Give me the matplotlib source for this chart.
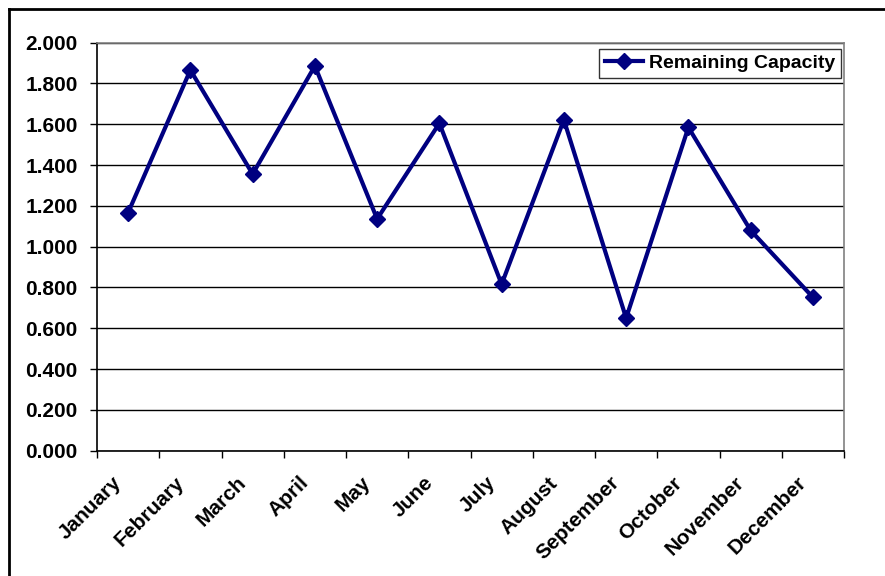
import matplotlib
matplotlib.use("Agg")
import matplotlib.pyplot as plt
from matplotlib.lines import Line2D
from matplotlib.transforms import ScaledTranslation

months = ["January", "February", "March", "April", "May", "June",
          "July", "August", "September", "October", "November", "December"]
remaining_capacity = [1.167, 1.866, 1.356, 1.886, 1.136, 1.605,
                      0.816, 1.622, 0.650, 1.585, 1.080, 0.752]
y_ticks = [0.0, 0.2, 0.4, 0.6, 0.8, 1.0, 1.2, 1.4, 1.6, 1.8, 2.0]
series_name = "Remaining Capacity"

plt.rcParams['font.family'] = ['Liberation Sans', 'DejaVu Sans']
plt.rcParams['font.weight'] = 'bold'

W, H = 885, 576
fig = plt.figure(figsize=(W / 100, H / 100), dpi=100)
fig.patch.set_facecolor('white')
ax = fig.add_axes([97 / W, 1 - 450.7 / H, (844 - 97) / W, (450.7 - 42.7) / H])

x = list(range(len(months)))
ax.plot(x, remaining_capacity, color='#000080', linewidth=3.0,
        marker='D', markersize=8, markerfacecolor='#000080',
        markeredgecolor='#000080', label=series_name, zorder=3)

ax.set_xlim(-0.5, len(months) - 0.5)
ax.set_ylim(0, 2.0)
ax.set_yticks(y_ticks)
ax.set_yticklabels([f"{v:.3f}" for v in y_ticks], fontsize=15, fontweight='bold')
ax.yaxis.grid(True, color='black', linewidth=1.0)
ax.set_axisbelow(True)

ax.set_xticks([i - 0.5 for i in range(len(months) + 1)])
ax.set_xticklabels([])
ax.set_xticks(x, minor=True)
ax.set_xticklabels(months, minor=True, rotation=45, ha='right',
                   rotation_mode='anchor', fontsize=15, fontweight='bold')
ax.tick_params(axis='x', which='minor', length=0, pad=9)
ax.tick_params(axis='x', which='major', length=5, width=1, color='black', direction='out')
ax.tick_params(axis='y', length=5, width=1, color='black', direction='out', pad=9)
offset = ScaledTranslation(-0.16, -0.10, fig.dpi_scale_trans)
for lbl in ax.get_xticklabels(minor=True):
    lbl.set_transform(lbl.get_transform() + offset)

for s in ['left', 'bottom']:
    ax.spines[s].set_color('black')
    ax.spines[s].set_linewidth(1.2)
for s in ['top', 'right']:
    ax.spines[s].set_color('#808080')
    ax.spines[s].set_linewidth(1.2)

leg = ax.legend(loc='upper right', bbox_to_anchor=(0.9965, 0.985), fontsize=14,
                frameon=True, fancybox=False, handlelength=2.0,
                borderpad=0.3, handletextpad=0.3, borderaxespad=0.0)
leg.get_frame().set_edgecolor('black')
leg.get_frame().set_linewidth(1.0)
for t in leg.get_texts():
    t.set_fontweight('bold')

# outer chart border (left and top edges visible)
fig.add_artist(Line2D([8.5 / W, 8.5 / W], [0, 1 - 9 / H], color='black', linewidth=2,
                      transform=fig.transFigure))
fig.add_artist(Line2D([8.5 / W, 1.0], [1 - 9 / H, 1 - 9 / H], color='black', linewidth=2,
                      transform=fig.transFigure))

fig.savefig("out.png", dpi=100)
